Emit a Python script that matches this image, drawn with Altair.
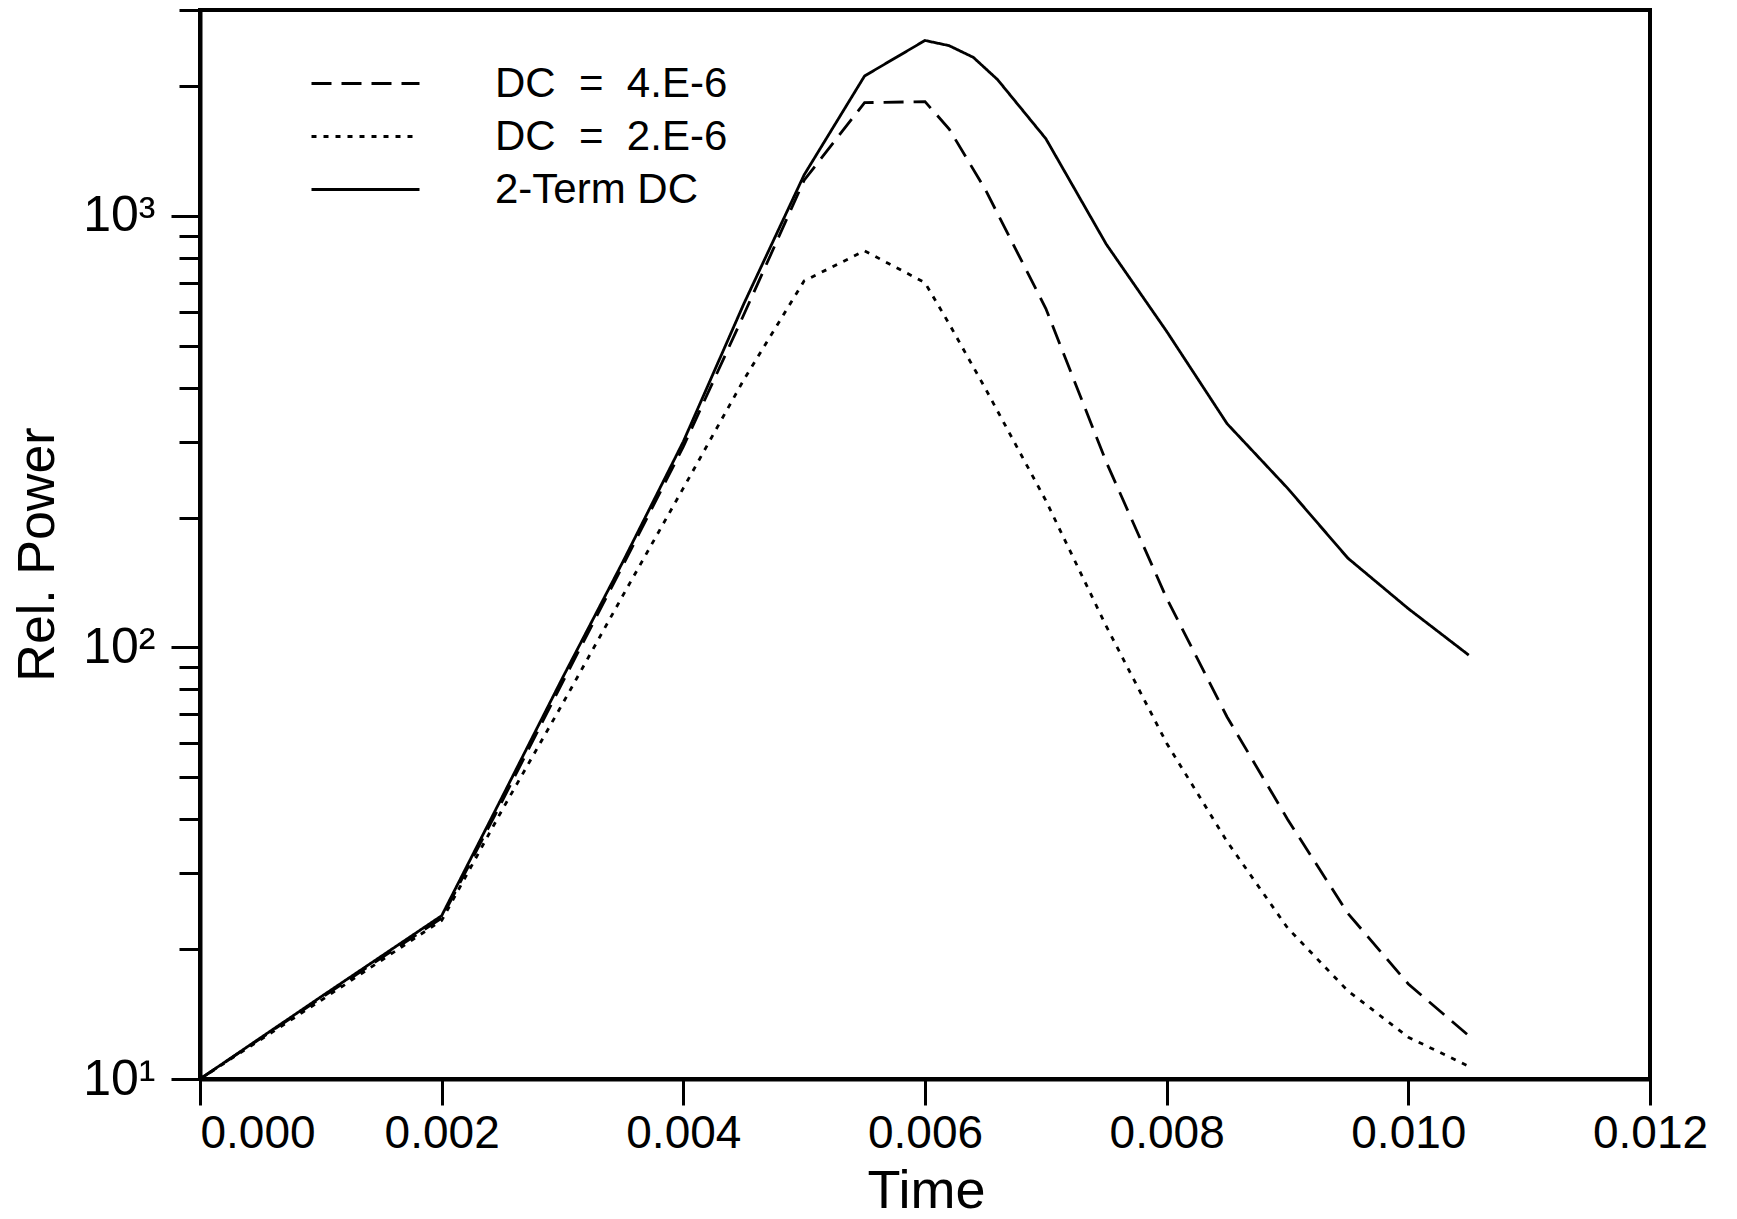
import altair as alt
import pandas as pd

# ---- data ----
NB = "\u00a0"
series_names = [f"DC{NB}{NB}={NB}{NB}4.E-6", f"DC{NB}{NB}={NB}{NB}2.E-6", "2-Term DC"]

t_dc4 = [0.0, 0.001, 0.002, 0.0025, 0.003, 0.0035, 0.004, 0.0045, 0.005, 0.0055,
         0.006, 0.0062, 0.0065, 0.007, 0.0075, 0.008, 0.0085, 0.009, 0.0095, 0.010, 0.0105]
p_dc4 = [10, 15.4, 23.6, 44, 83, 155, 292, 590, 1210, 1830,
         1840, 1590, 1150, 610, 269, 130, 69, 40, 24.2, 16.6, 12.6]

t_dc2 = [0.0, 0.001, 0.002, 0.0025, 0.003, 0.0035, 0.004, 0.0045, 0.005, 0.0055,
         0.006, 0.0062, 0.0065, 0.007, 0.0075, 0.008, 0.0085, 0.009, 0.0095, 0.010, 0.0105]
p_dc2 = [10, 15.2, 23.3, 42, 74, 132, 234, 417, 707, 830,
         700, 562, 398, 219, 112, 60, 35.5, 22.4, 16, 12.5, 10.7]

t_two = [0.0, 0.001, 0.002, 0.0025, 0.003, 0.0035, 0.004, 0.0045, 0.005, 0.0055,
         0.006, 0.0062, 0.0064, 0.0066, 0.007, 0.0075, 0.008, 0.0085, 0.009, 0.0095, 0.010, 0.0105]
p_two = [10, 15.5, 23.9, 45, 85, 158, 300, 625, 1245, 2110,
         2550, 2480, 2330, 2070, 1510, 860, 540, 330, 234, 161, 123, 96]

x_ticks = [0.0, 0.002, 0.004, 0.006, 0.008, 0.010, 0.012]
y_ticks = [10, 20, 30, 40, 50, 60, 70, 80, 90,
           100, 200, 300, 400, 500, 600, 700, 800, 900,
           1000, 2000, 3000]

rows = []
for name, ts, ps in zip(series_names, [t_dc4, t_dc2, t_two], [p_dc4, p_dc2, p_two]):
    for i, (t, p) in enumerate(zip(ts, ps)):
        rows.append({"series": name, "Time": t, "Power": p, "order": i})
df = pd.DataFrame(rows)

FONT = "Liberation Sans"

y_label_expr = ("datum.value == 10 ? '10\u00b9' : datum.value == 100 ? '10\u00b2' : "
                "datum.value == 1000 ? '10\u00b3' : ''")

chart = alt.Chart(df).mark_line(color="black", strokeWidth=2.8).encode(
    x=alt.X("Time:Q",
            scale=alt.Scale(domain=[0, 0.012], nice=False, zero=False),
            axis=alt.Axis(values=x_ticks, format=".3f", title="Time",
                          grid=False, tickSize=26, tickWidth=3, tickColor="black",
                          domainColor="black", domainWidth=4,
                          labelFont=FONT, labelFontSize=46, labelColor="black",
                          labelPadding=6, labelFlush=False,
                          labelAlign={"condition": {"test": "datum.value == 0", "value": "left"},
                                      "value": "center"},
                          titleFont=FONT, titleFontSize=54, titleFontWeight="normal",
                          titleColor="black", titleX=726, titleY=128,
                          titleBaseline="alphabetic", titleAlign="center")),
    y=alt.Y("Power:Q",
            scale=alt.Scale(type="log", domain=[10, 3000], nice=False),
            axis=alt.Axis(values=y_ticks, labelExpr=y_label_expr, title="Rel. Power",
                          grid=False,
                          tickSize={"condition": {"test": "datum.value == 10 || datum.value == 100 || datum.value == 1000", "value": 29}, "value": 21},
                          tickWidth=3, tickColor="black",
                          domainColor="black", domainWidth=4,
                          labelFont=FONT, labelFontSize=50, labelColor="black",
                          labelPadding=16, labelFlush=False, labelBaseline="middle",
                          titleFont=FONT, titleFontSize=52, titleFontWeight="normal",
                          titleColor="black", titleAngle=-90, titleX=-163, titleY=544,
                          titleAlign="center", titleBaseline="middle")),
    strokeDash=alt.StrokeDash("series:N",
                              scale=alt.Scale(domain=series_names,
                                              range=[[20, 10], [5, 7], [1, 0]]),
                              legend=alt.Legend(title=None, orient="none",
                                                legendX=110, legendY=47,
                                                symbolType="stroke", symbolSize=11664,
                                                symbolStrokeWidth=2.8,
                                                symbolStrokeColor="black",
                                                clipHeight=53, rowPadding=0,
                                                labelFont=FONT, labelFontSize=42,
                                                labelColor="black", labelOffset=74,
                                                labelLimit=600)),
    order="order:Q",
    detail="series:N",
).properties(
    width=1450,
    height=1069,
    autosize=alt.AutoSizeParams(type="none"),
    padding={"left": 200, "top": 10, "right": 87, "bottom": 140},
).configure(
    background="white"
).configure_view(
    stroke="black", strokeWidth=4
)

chart.save("out.html", embed_options={"renderer": "svg", "actions": False})
